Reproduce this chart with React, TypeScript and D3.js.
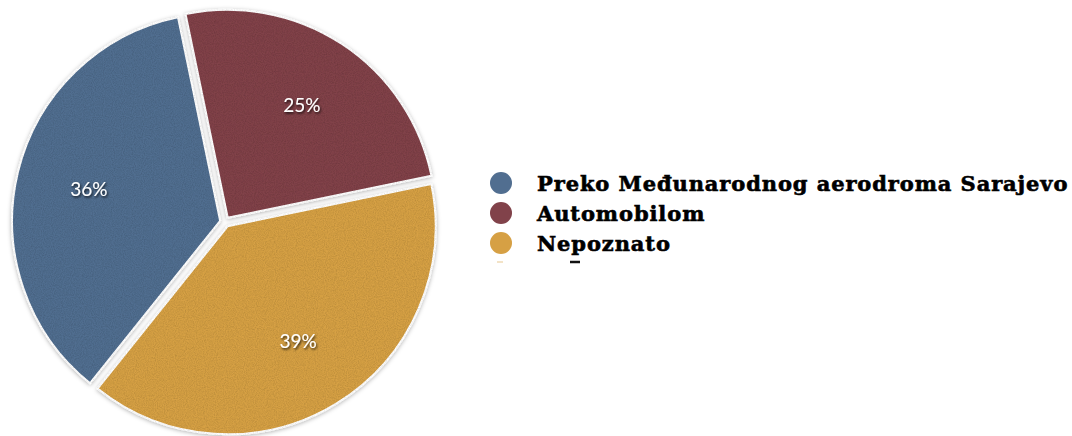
import React from "react";
import * as d3 from "d3";

const categories = ["Preko Međunarodnog aerodroma Sarajevo", "Automobilom", "Nepoznato"];
const values = [36, 25, 39];
const colors = ["#516e90", "#81424a", "#d6a044"];

const width = 1072;
const height = 436;

const App = () => {
  const cx = 225;
  const cy = 222;
  const radius = 208;
  const explode = 5;

  const start = (218.7 * Math.PI) / 180;
  const pie = d3
    .pie<number>()
    .sort(null)
    .value((d) => d)
    .startAngle(start)
    .endAngle(start + 2 * Math.PI);
  const arcs = pie(values);

  const arc = d3.arc<d3.PieArcDatum<number>>().innerRadius(0).outerRadius(radius);
  const labelArc = d3.arc<d3.PieArcDatum<number>>().innerRadius(140).outerRadius(140);

  const legend = d3.scaleBand<string>().domain(categories).range([168, 258]);

  return (
    <svg
      width={width}
      height={height}
      style={{ position: "absolute", left: 0, top: 0, background: "#fff" }}
    >
      <defs>
        <filter id="grain" x="-5%" y="-5%" width="110%" height="110%">
          <feTurbulence type="fractalNoise" baseFrequency="0.9" numOctaves="2" seed="3" result="noise" />
          <feColorMatrix
            in="noise"
            type="matrix"
            values="0 0 0 0 0  0 0 0 0 0  0 0 0 0 0  0.45 0 0 0 -0.15"
            result="dots"
          />
          <feComposite in="dots" in2="SourceAlpha" operator="in" result="grainIn" />
          <feMerge result="textured">
            <feMergeNode in="SourceGraphic" />
            <feMergeNode in="grainIn" />
          </feMerge>
          <feDropShadow dx="0" dy="1" stdDeviation="2" floodColor="#000" floodOpacity="0.3" />
        </filter>
        <filter id="txt" x="-20%" y="-20%" width="140%" height="140%">
          <feDropShadow dx="1" dy="1.5" stdDeviation="0.8" floodColor="#000" floodOpacity="0.8" />
        </filter>
      </defs>

      <g transform={`translate(${cx},${cy})`}>
        {arcs.map((d, i) => {
          const mid = (d.startAngle + d.endAngle) / 2;
          const ox = Math.sin(mid) * explode;
          const oy = -Math.cos(mid) * explode;
          return (
            <g key={categories[i]} transform={`translate(${ox},${oy})`}>
              <path
                d={arc(d) || ""}
                fill={colors[i]}
                stroke="#fff"
                strokeWidth={2}
                filter="url(#grain)"
              />
            </g>
          );
        })}
        {arcs.map((d, i) => {
          const [lx, ly] = labelArc.centroid(d);
          return (
            <text
              key={`lbl-${i}`}
              x={lx}
              y={ly}
              dy="0.35em"
              textAnchor="middle"
              fill="#fff"
              fontFamily="Lato, 'Open Sans', sans-serif"
              fontSize={19}
              filter="url(#txt)"
            >
              {`${values[i]}%`}
            </text>
          );
        })}
      </g>

      <g>
        {categories.map((c, i) => {
          const y = (legend(c) || 0) + legend.bandwidth() / 2;
          return (
            <g key={`leg-${c}`}>
              <circle cx={501} cy={y} r={11} fill={colors[i]} />
              <text
                x={537}
                y={y}
                dy="0.36em"
                fill="#000"
                stroke="#000"
                strokeWidth={0.6}
                fontFamily="'DejaVu Serif', serif"
                fontWeight="bold"
                fontSize={21}
                letterSpacing={0.9}
              >
                {c}
              </text>
            </g>
          );
        })}
        {/* clipped remains of a fourth legend row */}
        <line x1={497} x2={503} y1={262} y2={262} stroke={colors[2]} strokeOpacity={0.4} strokeWidth={1.5} />
        <line x1={570} x2={580} y1={262} y2={262} stroke="#111" strokeWidth={2.5} />
      </g>
    </svg>
  );
};

export default App;
